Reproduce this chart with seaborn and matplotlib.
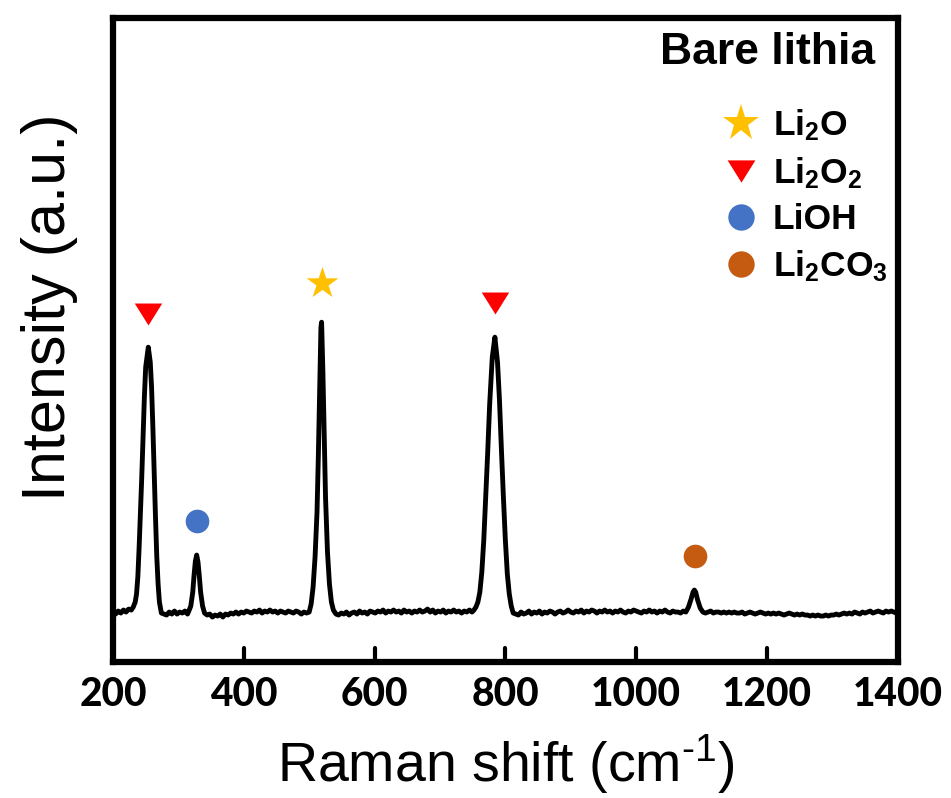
import numpy as np
import pandas as pd
import matplotlib
matplotlib.use("Agg")
import matplotlib.pyplot as plt
import seaborn as sns
from matplotlib.lines import Line2D

# ---------------- data (Raman shift cm-1, intensity a.u.) ----------------
spectrum = [
    (200, 50), (204, 48), (208, 51), (212, 49), (216, 52), (220, 50), (224, 53), (228, 52),
    (231, 55), (234, 60), (236, 68), (238, 85), (240, 115), (242, 150), (244, 185), (246, 225),
    (248, 265), (250, 295), (254, 315), (257, 300), (259, 275), (261, 235), (263, 190), (265, 145),
    (267, 105), (269, 78), (271, 60), (274, 49), (278, 48), (282, 47), (286, 50), (290, 48),
    (294, 51), (298, 48), (302, 50), (306, 49), (310, 51), (314, 48),
    (316, 51), (319, 56), (322, 70), (324, 87), (326, 101), (328, 107), (330, 100), (332, 86),
    (334, 70), (337, 56), (340, 49), (344, 47), (348, 48), (352, 45), (356, 47), (360, 46),
    (364, 48), (368, 45), (372, 48), (376, 47), (380, 49), (384, 48), (388, 50), (392, 48),
    (396, 50), (400, 49), (404, 51), (408, 50), (412, 49), (416, 51), (420, 50), (424, 52),
    (428, 49), (432, 51), (436, 50), (440, 52), (444, 50), (448, 51), (452, 49), (456, 51),
    (460, 50), (464, 49), (468, 51), (472, 50), (476, 49), (480, 51), (484, 50), (488, 48),
    (492, 50), (496, 49), (500, 50),
    (503, 58), (506, 75), (509, 105), (512, 150), (514, 205), (516, 270), (518, 335), (519, 340),
    (521, 290), (523, 230), (525, 165), (528, 110), (531, 78), (534, 60), (537, 52),
    (541, 48), (545, 47), (549, 49), (553, 48), (557, 50), (561, 47), (565, 49), (569, 50),
    (573, 48), (577, 51), (581, 49), (585, 50), (589, 48), (593, 51), (597, 50), (601, 49),
    (605, 51), (609, 50), (613, 52), (617, 49), (621, 51), (625, 50), (629, 52), (633, 50),
    (637, 51), (641, 49), (645, 52), (649, 50), (653, 51), (657, 49), (661, 51), (665, 50),
    (669, 52), (673, 50), (677, 51), (681, 53), (685, 50), (689, 52), (693, 49), (697, 51),
    (701, 50), (705, 52), (709, 49), (713, 51), (717, 50), (721, 52), (725, 50), (729, 51),
    (733, 49), (737, 51), (741, 50), (745, 52), (749, 50), (752, 52),
    (755, 55), (758, 60), (761, 70), (764, 90), (767, 122), (770, 165), (773, 210), (776, 258),
    (780, 305), (784, 325), (788, 300), (791, 262), (794, 212), (797, 165), (800, 122), (803, 88),
    (806, 68), (809, 56), (812, 49),
    (816, 48), (820, 47), (824, 50), (828, 48), (832, 49), (836, 51), (840, 48), (844, 50),
    (848, 49), (852, 51), (856, 48), (860, 50), (864, 49), (868, 51), (872, 50), (876, 48),
    (880, 50), (884, 51), (888, 49), (892, 50), (896, 52), (900, 50), (904, 49), (908, 51),
    (912, 50), (916, 52), (920, 49), (924, 51), (928, 50), (932, 52), (936, 51), (940, 49),
    (944, 51), (948, 50), (952, 52), (956, 50), (960, 51), (964, 49), (968, 51), (972, 50),
    (976, 52), (980, 50), (984, 49), (988, 51), (992, 50), (996, 52), (1000, 51), (1004, 50),
    (1008, 49), (1012, 51), (1016, 50), (1020, 52), (1024, 50), (1028, 51), (1032, 49),
    (1036, 51), (1040, 50), (1044, 52), (1048, 50), (1052, 49), (1056, 51), (1060, 50),
    (1064, 50), (1068, 49), (1072, 51), (1076, 50),
    (1080, 55), (1084, 63), (1087, 70), (1089, 72), (1091, 70), (1094, 62), (1098, 54), (1102, 50),
    (1106, 49), (1110, 50), (1114, 51), (1118, 49), (1122, 50), (1126, 50), (1130, 49), (1134, 50),
    (1138, 49), (1142, 50), (1146, 49), (1150, 50), (1154, 49), (1158, 49), (1162, 50), (1166, 48),
    (1170, 49), (1174, 50), (1178, 49), (1182, 48), (1186, 49), (1190, 50), (1194, 49), (1198, 48),
    (1202, 49), (1206, 48), (1210, 49), (1214, 48), (1218, 49), (1222, 48), (1226, 47), (1230, 48),
    (1234, 49), (1238, 48), (1242, 47), (1246, 48), (1250, 47), (1254, 48), (1258, 47), (1262, 47),
    (1266, 46), (1270, 47), (1274, 46), (1278, 47), (1282, 46), (1286, 46), (1290, 47), (1294, 46),
    (1298, 47), (1302, 47), (1306, 48), (1310, 47), (1314, 48), (1318, 49), (1322, 48), (1326, 49),
    (1330, 48), (1334, 50), (1338, 49), (1342, 48), (1346, 50), (1350, 49), (1354, 50), (1358, 51),
    (1362, 49), (1366, 50), (1370, 51), (1374, 50), (1378, 49), (1382, 51), (1386, 50), (1390, 51),
    (1394, 50), (1398, 49), (1400, 50),
]
raman_shift = [p[0] for p in spectrum]
intensity = [p[1] for p in spectrum]

marker_species = ["Li2O2", "LiOH", "Li2O", "Li2O2", "Li2CO3"]
marker_x = [254, 328, 519, 784, 1090]
marker_y = [348, 141, 379, 359, 106]

legend_keys = ["Li2O", "Li2O2", "LiOH", "Li2CO3"]
legend_labels = ["Li$\\mathregular{_2}$O", "Li$\\mathregular{_2}$O$\\mathregular{_2}$",
                 "LiOH", "Li$\\mathregular{_2}$CO$\\mathregular{_3}$"]
xticks = [200, 400, 600, 800, 1000, 1200, 1400]

# ---------------- style ----------------
sns.set_style("ticks")
plt.rcParams["font.family"] = ["Liberation Sans", "DejaVu Sans"]
plt.rcParams["mathtext.fontset"] = "custom"
plt.rcParams["mathtext.rm"] = "Liberation Sans"
plt.rcParams["mathtext.it"] = "Liberation Sans"
plt.rcParams["mathtext.bf"] = "Liberation Sans:bold"
plt.rcParams["text.color"] = "black"
plt.rcParams["axes.labelcolor"] = "black"
plt.rcParams["xtick.color"] = "black"
plt.rcParams["axes.edgecolor"] = "black"

colors = {"Li2O": "#FFC000", "Li2O2": "#FF0000", "LiOH": "#4472C4", "Li2CO3": "#C55A11"}
tri = [(-1, 0.8), (1, 0.8), (0, -0.8)]
shapes = {"Li2O": "*", "Li2O2": tri, "LiOH": "o", "Li2CO3": "o"}
sizes = {"Li2O": 580, "Li2O2": 390, "LiOH": 290, "Li2CO3": 290}
leg_ms = {"Li2O": 28, "Li2O2": 20, "LiOH": 19, "Li2CO3": 19}

fig = plt.figure(figsize=(9.51, 7.98), dpi=100)
ax = fig.add_axes([0.1188, 0.1704, 0.8252, 0.8066])

df = pd.DataFrame({"x": raman_shift, "y": intensity})
sns.lineplot(data=df, x="x", y="y", ax=ax, color="black", linewidth=3.5,
             sort=False, estimator=None)

mk = pd.DataFrame({"x": marker_x, "y": marker_y, "s": marker_species})
for sp in legend_keys:
    sub = mk[mk["s"] == sp]
    sns.scatterplot(data=sub, x="x", y="y", ax=ax, marker=shapes[sp],
                    color=colors[sp], s=sizes[sp], linewidth=0, legend=False)

ax.set_xlim(200, 1400)
ax.set_ylim(0, 644)
ax.set_xticks(xticks)
ax.set_xticklabels([str(t) for t in xticks], fontfamily="Lato",
                   fontweight="black", fontsize=28)
ax.set_yticks([])
ax.tick_params(axis="x", which="major", bottom=True, direction="in", length=0,
               pad=10, colors="black")
# inward tick marks drawn at the tick positions (x in data, y in axes fraction)
xt = ax.get_xaxis_transform()
for t in xticks[1:-1]:
    ax.plot([t, t], [0.0, 0.022], transform=xt, color="black", linewidth=3.0,
            solid_capstyle="round", clip_on=False, zorder=6)
for s in ax.spines.values():
    s.set_linewidth(4.5)
    s.set_color("black")

ax.set_xlabel("Raman shift (cm$^{\\text{-1}}$)", fontsize=40, labelpad=14)
ax.set_ylabel("Intensity (a.u.)", fontsize=44)
ax.yaxis.set_label_coords(-0.045, 0.551)

ax.text(0.971, 0.947, "Bare lithia", transform=ax.transAxes, ha="right",
        va="center", fontsize=32, fontweight="bold")

handles = []
for key, lab in zip(legend_keys, legend_labels):
    handles.append(Line2D([], [], linestyle="none", marker=shapes[key],
                          markersize=leg_ms[key], markerfacecolor=colors[key],
                          markeredgewidth=0, label=lab))
leg = ax.legend(handles=handles, loc="upper right", bbox_to_anchor=(0.987, 0.862),
                frameon=False, borderpad=0, borderaxespad=0, handlelength=1.0,
                handletextpad=0.4, labelspacing=0.35,
                prop={"family": "Liberation Sans", "weight": "bold", "size": 25.5})

fig.savefig("out.png", dpi=100)
